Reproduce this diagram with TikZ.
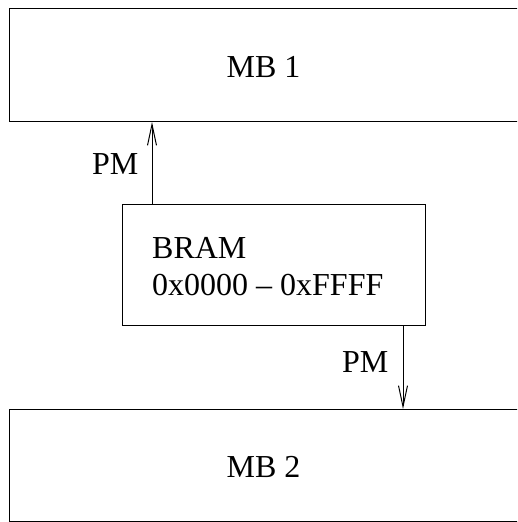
\documentclass[tikz,border=0pt]{standalone}
\usepackage{fontspec}
\setmainfont{Liberation Serif}
\usetikzlibrary{arrows.meta}
\tikzset{
  box/.style={draw=black, line width=1pt, inner sep=0pt, anchor=north west},
  lbl/.style={inner sep=0pt, anchor=base west, font=\fontsize{32}{37}\selectfont},
  ctr/.style={inner sep=0pt, anchor=base, font=\fontsize{32}{37}\selectfont},
  arr/.style={draw=black, line width=1pt, -{Straight Barb[length=21pt,width=9pt,line width=1pt]}}
}
\begin{document}
\begin{tikzpicture}[x=1pt,y=-1pt]
\useasboundingbox (0,0) rectangle (517,522);
\clip (0,0) rectangle (517,522);
\node[box, minimum width=530pt, minimum height=113.5pt] (mb1) at (8.5,7.5) {};
\node[box, minimum width=530pt, minimum height=112pt] (mb2) at (8.5,409) {};
\node[box, minimum width=303pt, minimum height=121pt] (bram) at (122,204) {};
\node[ctr] (t1) at (263.5,77) {MB 1};
\node[ctr] (t2) at (263.5,477) {MB 2};
\node[lbl] (b1) at (152,258) {BRAM};
\node[lbl] (b2) at (152,295) {0x0000 -- 0xFFFF};
\draw[arr] ([xshift=30pt]bram.north west) -- ([xshift=30pt]bram.north west |- mb1.south);
\draw[arr] ([xshift=-23pt]bram.south east) -- ([xshift=-23pt]bram.south east |- mb2.north);
\node[lbl] (pm1) at (92,174) {PM};
\node[lbl] (pm2) at (342,372) {PM};
\end{tikzpicture}
\end{document}
